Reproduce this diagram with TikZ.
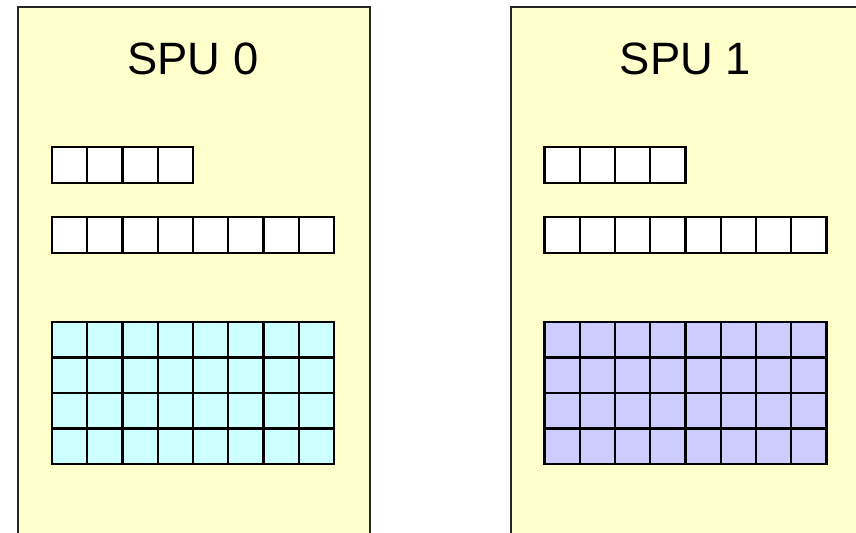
\documentclass[tikz,border=0pt]{standalone}
\usepackage{fontspec}
\setmainfont{Liberation Sans}
\definecolor{spuyellow}{HTML}{FFFFCC}
\definecolor{regcyan}{HTML}{CCFFFF}
\definecolor{reglav}{HTML}{CCCCFF}
\tikzset{
  spubox/.style={fill=spuyellow, draw=black!85, line width=1.7pt},
  cellbox/.style={draw=black, line width=1.8pt, fill=white},
  sputitle/.style={font=\fontsize{34}{40}\selectfont, anchor=base, inner sep=0pt}
}
\begin{document}
\begin{tikzpicture}[x=0.75pt,y=-0.75pt]
\useasboundingbox (0,0) rectangle (856,532);
\clip (0,0) rectangle (856,532);
\foreach \ox/\nm/\gc in {0/0/regcyan, 492.5/1/reglav} {
  \begin{scope}[shift={(\ox,0)}]
    \node[spubox, anchor=north west, minimum width=352*0.75pt, minimum height=560*0.75pt, inner sep=0pt] (spu\nm) at (17,6) {};
    \node[sputitle] (title\nm) at (193,74) {SPU \nm};
    \foreach \i in {0,...,3}
      \draw[cellbox] ({52+\i*35.25},147) rectangle +(35.25,36);
    \foreach \i in {0,...,7}
      \draw[cellbox] ({52+\i*35.25},217) rectangle +(35.25,36);
    \foreach \i in {0,...,7}
      \foreach \j in {0,...,3}
        \draw[cellbox, fill=\gc] ({52+\i*35.25},{322+\j*35.5}) rectangle +(35.25,35.5);
  \end{scope}
}
\end{tikzpicture}
\end{document}
